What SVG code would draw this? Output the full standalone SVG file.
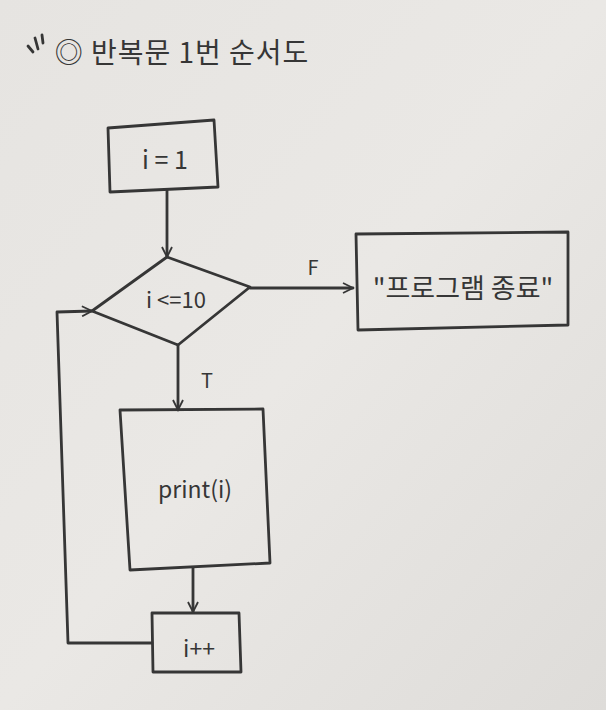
<svg xmlns="http://www.w3.org/2000/svg" width="606" height="710" viewBox="0 0 606 710">
<defs>
<linearGradient id="paper" x1="0" y1="0" x2="1" y2="1">
<stop offset="0" stop-color="#e6e4e1"/>
<stop offset="0.5" stop-color="#eae8e5"/>
<stop offset="1" stop-color="#dedcd9"/>
</linearGradient>
<marker id="arr" viewBox="0 0 12 12" refX="11" refY="6" markerWidth="12" markerHeight="12" markerUnits="userSpaceOnUse" orient="auto">
<path d="M1,1 L11,6 L1,11" fill="none" stroke="#363636" stroke-width="1.8"/>
</marker>
<style>
.ln{fill:none;stroke:#363636;stroke-width:2.8;stroke-linejoin:round;stroke-linecap:round}
.tx{font-family:"Noto Sans CJK KR","Noto Sans",sans-serif;fill:#363636;text-anchor:middle}
</style>
</defs>
<rect width="606" height="710" fill="url(#paper)"/>
<g id="title">
<path class="ln" d="M28,46 L33,52 M35,38 L38,49 M42,35 L43,43" stroke-width="2"/>
<text class="tx" x="182" y="63" font-size="28" letter-spacing="1">◎ 반복문 1번 순서도</text>
</g>
<g id="connectors">
<line class="ln" x1="167" y1="190" x2="167" y2="257" marker-end="url(#arr)"/>
<line class="ln" x1="250" y1="288" x2="353" y2="288" marker-end="url(#arr)"/>
<text class="tx" x="313" y="275" font-size="20">F</text>
<line class="ln" x1="178" y1="345" x2="178" y2="410" marker-end="url(#arr)"/>
<text class="tx" x="207" y="388" font-size="20">T</text>
<line class="ln" x1="193" y1="568" x2="193" y2="612" marker-end="url(#arr)"/>
<polyline class="ln" points="152,643 68,643 57,312 92,311" marker-end="url(#arr)"/>
</g>
<g id="start">
<polygon class="ln" points="108,128 214,120 218,187 110,192"/>
<text class="tx" x="165" y="169" font-size="25">i = 1</text>
</g>
<g id="cond">
<polygon class="ln" points="167,257 250,287 178,345 92,311"/>
<text class="tx" x="176" y="308" font-size="22">i &lt;=10</text>
</g>
<g id="end">
<polygon class="ln" points="356,234 568,232 568,325 358,330"/>
<text class="tx" x="463" y="298" font-size="27">"프로그램 종료"</text>
</g>
<g id="print">
<polygon class="ln" points="120,410 263,409 270,563 130,570"/>
<text class="tx" x="195" y="498" font-size="23">print(i)</text>
</g>
<g id="inc">
<polygon class="ln" points="152,613 239,613 241,672 153,672"/>
<text class="tx" x="199" y="657" font-size="23">i++</text>
</g>
</svg>
